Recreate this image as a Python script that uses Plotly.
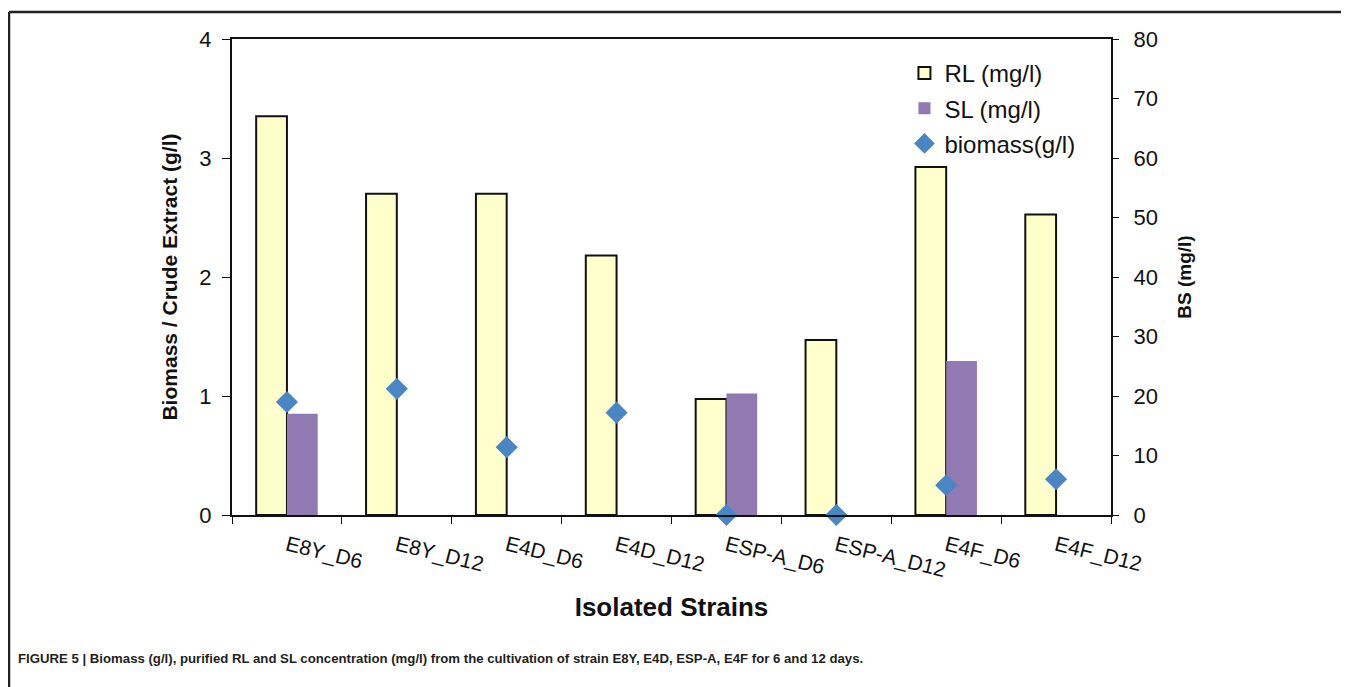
import plotly.graph_objects as go

# ---- data ----
strains = ["E8Y_D6", "E8Y_D12", "E4D_D6", "E4D_D12",
           "ESP-A_D6", "ESP-A_D12", "E4F_D6", "E4F_D12"]
rl_mg_l = [67.0, 54.0, 54.0, 43.6, 19.5, 29.4, 58.5, 50.5]
sl_mg_l = [17.0, 0.0, 0.0, 0.0, 20.4, 0.0, 25.9, 0.0]
biomass_g_l = [0.95, 1.06, 0.57, 0.86, 0.0, 0.0, 0.25, 0.30]

left_ticks = [0, 1, 2, 3, 4]
right_ticks = [0, 10, 20, 30, 40, 50, 60, 70, 80]

caption = ("<b>FIGURE 5 | Biomass (g/l), purified RL and SL concentration (mg/l) "
           "from the cultivation of strain E8Y, E4D, ESP-A, E4F for 6 and 12 days.</b>")

# ---- layout geometry (page has an 8px body margin) ----
OFF = 8
PAGE_W, PAGE_H = 1349, 687
W, H = PAGE_W - OFF, PAGE_H - OFF
L, T = 232 - OFF, 39 - OFF
R, B = PAGE_W - 1111, PAGE_H - 515
PW, PH = W - L - R, H - T - B


def px(xp):
    """page x pixel -> paper coordinate"""
    return (xp - OFF - L) / PW


def py(yp):
    """page y pixel -> paper coordinate"""
    return (H - B - (yp - OFF)) / PH


FONT = "Liberation Sans, Arial, sans-serif"

fig = go.Figure()
fig.add_trace(go.Bar(
    x=strains, y=rl_mg_l, name="RL (mg/l)", yaxis="y",
    marker=dict(color="#FFFFCC", line=dict(color="#111111", width=2)),
    legendgroup="a",
))
fig.add_trace(go.Bar(
    x=strains, y=sl_mg_l, name="SL (mg/l)", yaxis="y",
    marker=dict(color="#9179B1", line=dict(width=0)),
    legendgroup="b",
))
fig.add_trace(go.Scatter(
    x=strains, y=biomass_g_l, name="biomass(g/l)", yaxis="y2",
    mode="markers", cliponaxis=False,
    marker=dict(symbol="diamond", size=17, color="#4A86C6"),
    legendgroup="c",
))

fig.update_layout(
    width=W, height=H,
    margin=dict(l=L, r=R, t=T, b=B, pad=0),
    paper_bgcolor="white", plot_bgcolor="white",
    font=dict(family=FONT, color="#111111"),
    barmode="group", bargap=0.44, bargroupgap=0,
    showlegend=True,
    legend=dict(x=0.765, y=0.975, xanchor="left", yanchor="top",
                font=dict(size=24, family=FONT), bgcolor="rgba(0,0,0,0)",
                tracegroupgap=1, itemwidth=30),
    xaxis=dict(
        type="category", showgrid=False, showline=True, linecolor="#111111",
        linewidth=2, mirror=True, ticks="outside", tickson="boundaries",
        ticklen=7, tickcolor="#111111", tickwidth=1, tickangle=14,
        tickfont=dict(size=21, family=FONT), ticklabelstandoff=8,
        title=dict(text="<b>Isolated Strains</b>", font=dict(size=26, family=FONT),
                   standoff=17),
    ),
    yaxis=dict(
        side="right", range=[0, 80], tickvals=right_ticks, showgrid=False,
        zeroline=False, showline=True, linecolor="#111111", linewidth=2,
        ticks="outside", ticklen=6, tickcolor="#111111", tickwidth=1,
        tickfont=dict(size=22, family=FONT), ticklabelstandoff=10,
        title=dict(text="<b>BS (mg/l)</b>", font=dict(size=19, family=FONT),
                   standoff=21),
    ),
    yaxis2=dict(
        overlaying="y", side="left", range=[0, 4], tickvals=left_ticks,
        showgrid=False, zeroline=False, showline=True, linecolor="#111111",
        linewidth=2, ticks="outside", ticklen=8, tickcolor="#111111",
        tickwidth=1, tickfont=dict(size=22, family=FONT), ticklabelstandoff=6,
        title=dict(text="<b>Biomass / Crude Extract (g/l)</b>",
                   font=dict(size=21, family=FONT), standoff=16),
    ),
    yaxis3=dict(
        overlaying="y", side="right", range=[0, 80], tickvals=right_ticks,
        showgrid=False, zeroline=False, showline=False, showticklabels=False,
        ticks="inside", ticklen=6, tickcolor="#111111", tickwidth=1,
    ),
)

# outer panel border (top and left rules)
fig.add_shape(type="line", xref="paper", yref="paper",
              x0=px(9), x1=px(PAGE_W + 2), y0=py(12), y1=py(12),
              line=dict(color="#231F20", width=2.5))
fig.add_shape(type="line", xref="paper", yref="paper",
              x0=px(9), x1=px(9), y0=py(12), y1=py(PAGE_H + 2),
              line=dict(color="#231F20", width=2.5))

fig.add_annotation(text=caption, xref="paper", yref="paper",
                   x=px(16), y=py(658), xanchor="left", yanchor="middle",
                   showarrow=False, font=dict(size=13.2, family=FONT, color="#231F20"))

fig.write_html("out.html")
